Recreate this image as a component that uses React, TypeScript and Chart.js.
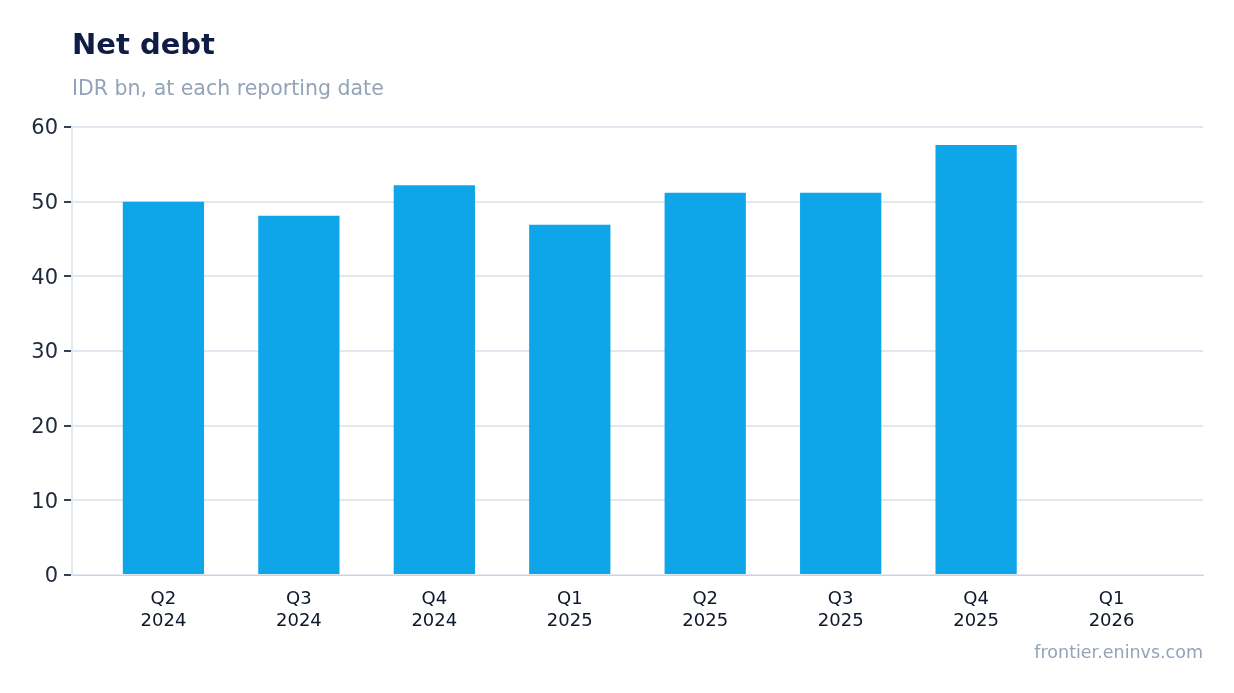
import React, { useEffect, useRef } from 'react';
import Chart from 'chart.js/auto';

const quarters = [['Q2', '2024'], ['Q3', '2024'], ['Q4', '2024'], ['Q1', '2025'], ['Q2', '2025'], ['Q3', '2025'], ['Q4', '2025'], ['Q1', '2026']];
const netDebt = [50.0, 48.1, 52.2, 46.9, 51.2, 51.2, 57.6, null];
const yTicks = [0, 10, 20, 30, 40, 50, 60];

const FONT = '"DejaVu Sans", sans-serif';
// extra space either side of the first / last category, in category widths
const X_EDGE = 0.675;

const App: React.FC = () => {
  const canvasRef = useRef<HTMLCanvasElement | null>(null);
  const chartRef = useRef<Chart | null>(null);

  useEffect(() => {
    const ctx = canvasRef.current?.getContext('2d');
    if (ctx) {
      chartRef.current = new Chart(ctx, {
        type: 'bar',
        data: {
          labels: quarters,
          datasets: [
            {
              label: 'Net debt',
              data: netDebt,
              backgroundColor: '#0ea5e9',
              borderWidth: 0,
              categoryPercentage: 0.8,
              barPercentage: 0.75,
            },
          ],
        },
        options: {
          animation: false,
          responsive: false,
          maintainAspectRatio: false,
          layout: { padding: { top: 127, right: 31, bottom: 47, left: 0 } },
          plugins: {
            legend: { display: false },
            tooltip: { enabled: false },
          },
          scales: {
            x: {
              offset: false,
              grid: { display: false, drawOnChartArea: false, tickLength: 8, tickColor: '#334155' },
              border: { color: '#cbd5e1', width: 1 },
              ticks: { color: '#0f172a', font: { family: FONT, size: 18 }, padding: 6 },
              afterBuildTicks: (scale: any) => {
                const n = quarters.length;
                scale._startValue = -X_EDGE;
                scale._valueRange = n - 1 + 2 * X_EDGE;
              },
              afterFit: (scale: any) => { scale.height = 71; },
            },
            y: {
              min: 0,
              max: 60,
              afterBuildTicks: (scale: any) => { scale.ticks = yTicks.map((v) => ({ value: v })); },
              grid: { color: '#e2e8f0', lineWidth: 2, tickLength: 8, tickColor: '#334155' },
              border: { color: '#e2e8f0', width: 2 },
              ticks: { color: '#1e293b', font: { family: FONT, size: 21 }, padding: 6, labelOffset: 2 },
              afterFit: (scale: any) => { scale.width = 72; },
            },
          },
        },
      });
    }
    return () => {
      if (chartRef.current) chartRef.current.destroy();
    };
  }, []);

  return (
    <div style={{ position: 'absolute', left: 0, top: 0, width: 1234, height: 693, background: '#fff', fontFamily: FONT }}>
      <canvas ref={canvasRef} width={1234} height={693} style={{ position: 'absolute', left: 0, top: 0 }}></canvas>
      <div style={{ position: 'absolute', left: 72, top: 30, fontSize: 29, lineHeight: 1, fontWeight: 'bold', color: '#0f1c45' }}>Net debt</div>
      <div style={{ position: 'absolute', left: 72, top: 78, fontSize: 20.5, lineHeight: 1, color: '#94a3b8' }}>IDR bn, at each reporting date</div>
      <div style={{ position: 'absolute', right: 31, top: 644, fontSize: 17.5, lineHeight: 1, color: '#94a3b8' }}>frontier.eninvs.com</div>
    </div>
  );
};

export default App;
